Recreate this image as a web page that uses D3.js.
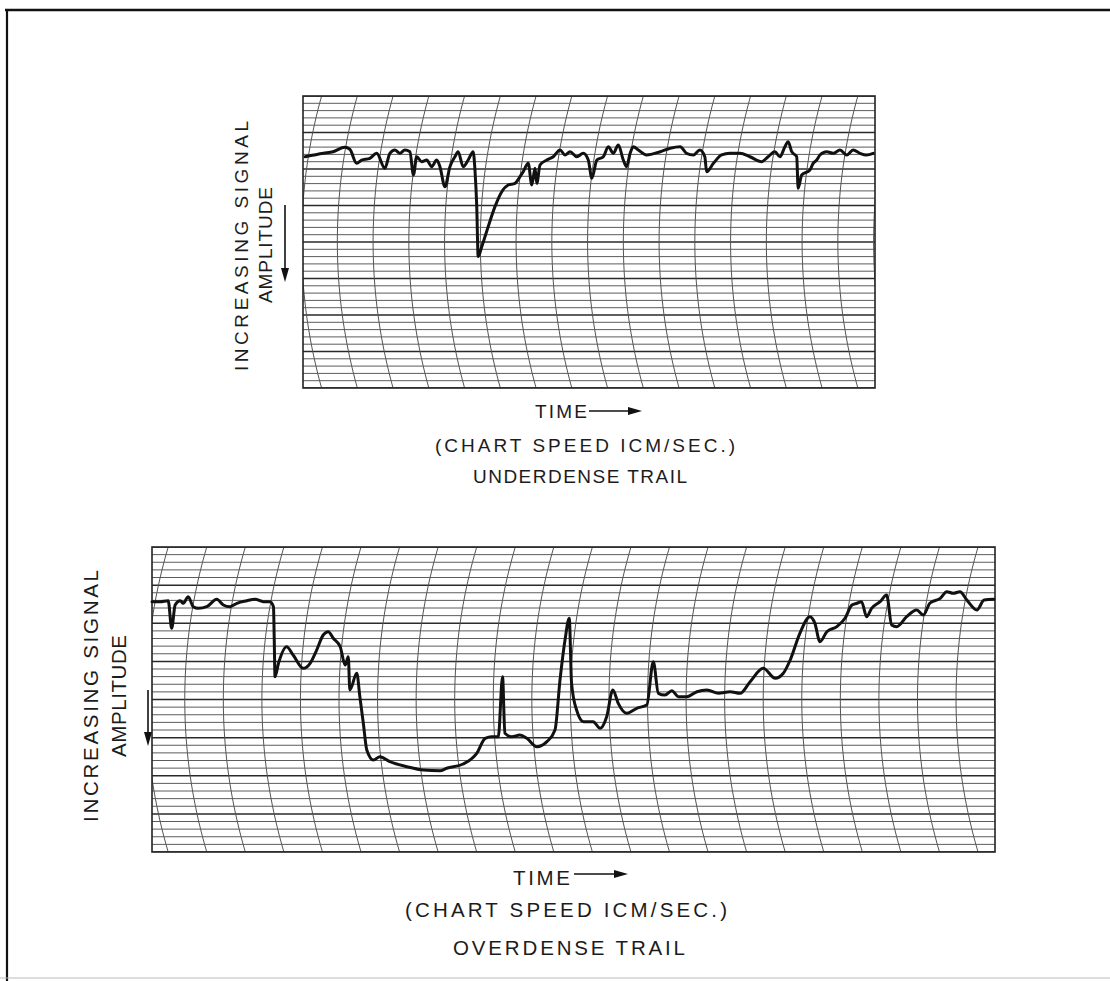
<!DOCTYPE html>
<html>
<head>
<meta charset="utf-8">
<script src="https://cdn.jsdelivr.net/npm/d3@7"></script>
<style>
  body { margin: 0; background: #fff; }
  text { font-family: "Liberation Sans", Arial, sans-serif; fill: #1c1c1c; }
</style>
</head>
<body>
<svg id="chart" width="1110" height="981"></svg>
<script>
'use strict';

// time in chart divisions (1 cm = 1 s), amplitude in pen divisions counted down from the top edge
var underTime = [0.06,0.57,0.84,1.17,1.31,1.50,1.64,1.87,2.06,2.29,2.43,2.57,2.71,2.85,2.99,3.09,3.18,3.32,3.46,3.60,3.74,3.83,3.97,4.11,4.25,4.34,4.48,4.62,4.76,4.81,4.86,4.90,5.00,5.18,5.37,5.56,5.74,5.93,6.07,6.16,6.30,6.40,6.49,6.54,6.63,6.82,7.00,7.19,7.33,7.47,7.66,7.84,7.98,8.08,8.22,8.40,8.54,8.68,8.82,8.96,9.05,9.15,9.24,9.38,9.61,9.99,10.27,10.55,10.73,10.92,11.10,11.24,11.29,11.48,11.71,11.94,12.22,12.50,12.83,13.01,13.20,13.34,13.48,13.57,13.67,13.81,13.85,13.95,14.18,14.27,14.37,14.46,14.65,14.83,15.02,15.21,15.39,15.58,15.76,15.95];
var underAmp = [8.32,7.85,7.63,7.03,7.30,9.22,8.77,8.53,7.85,9.90,7.85,7.40,7.85,7.40,7.63,10.82,8.32,9.00,8.77,9.68,8.77,9.68,12.42,9.68,8.32,7.63,9.68,8.77,7.63,10.14,15.16,22.0,20.64,17.90,15.16,13.11,12.19,11.96,11.05,10.37,9.22,12.19,9.90,11.96,9.45,8.77,8.32,7.40,8.08,7.63,8.32,7.85,8.77,11.27,8.77,8.32,6.95,7.85,6.71,8.77,9.68,7.85,6.95,7.40,8.08,7.63,7.16,6.95,7.85,8.08,7.40,8.32,10.37,9.22,8.08,7.85,7.85,8.32,9.00,8.32,7.63,8.32,6.95,6.26,7.63,8.32,12.64,10.82,10.14,9.22,8.77,8.08,7.63,7.85,7.40,8.08,7.40,7.85,8.08,7.85];

var overTime = [0.0,0.21,0.42,0.51,0.60,0.73,0.81,0.94,1.07,1.20,1.42,1.68,1.85,2.02,2.20,2.46,2.67,2.89,3.06,3.15,3.17,3.19,3.28,3.49,3.66,3.92,4.10,4.27,4.44,4.57,4.70,4.88,5.01,5.09,5.13,5.31,5.39,5.48,5.57,5.74,5.91,6.17,6.61,7.04,7.47,7.64,8.07,8.42,8.64,8.81,8.98,9.09,9.15,9.33,9.54,9.72,9.98,10.24,10.45,10.58,10.71,10.82,10.88,11.01,11.19,11.44,11.62,11.79,11.95,12.09,12.31,12.57,12.83,13.0,13.13,13.30,13.48,13.65,13.87,14.13,14.39,14.69,14.99,15.25,15.51,15.85,16.16,16.37,16.55,16.80,17.06,17.19,17.32,17.50,17.76,17.97,18.15,18.28,18.40,18.53,18.66,18.88,19.05,19.18,19.31,19.57,19.83,20.0,20.17,20.44,20.61,20.78,20.95,21.13,21.39,21.58,21.83];
var overAmp = [7.17,7.17,7.04,10.66,7.61,7.04,7.38,6.52,7.83,8.04,7.83,6.86,7.61,7.83,7.38,7.04,6.86,7.17,7.17,7.83,12.20,17.01,15.25,13.08,14.16,15.91,15.25,13.51,11.54,11.11,11.97,13.08,15.48,14.39,18.75,16.56,19.63,23.12,26.62,27.93,27.50,28.16,28.81,29.25,29.34,29.02,28.46,27.06,25.09,24.88,24.88,17.01,24.43,24.88,24.66,25.09,26.19,25.53,24.0,17.44,12.20,9.35,17.88,21.38,22.91,22.91,23.78,22.26,18.75,20.50,21.81,21.15,20.72,15.04,19.19,19.41,18.85,19.63,19.63,18.98,18.75,19.19,18.98,19.19,17.67,15.91,17.22,16.56,14.82,11.32,9.14,10.01,12.42,11.11,10.45,9.35,7.61,7.38,7.17,9.14,8.04,7.17,6.30,10.23,10.45,9.14,8.26,8.92,7.38,6.73,5.86,6.07,5.86,6.95,8.26,6.95,6.86];

var ampDivisions = 40;
var yLabelLines = ['INCREASING SIGNAL', 'AMPLITUDE'];
var xLabel = 'TIME';
var speedLabel = '(CHART SPEED ICM/SEC.)';
var trailNames = ['UNDERDENSE TRAIL', 'OVERDENSE TRAIL'];

var svg = d3.select('#chart');

// page frame
svg.append('line').attr('x1', 5).attr('y1', 10).attr('x2', 1110).attr('y2', 10)
    .attr('stroke', '#111').attr('stroke-width', 2.5);
svg.append('line').attr('x1', 7).attr('y1', 9).attr('x2', 7).attr('y2', 981)
    .attr('stroke', '#111').attr('stroke-width', 2.2);
svg.append('line').attr('x1', 0).attr('y1', 978).attr('x2', 1110).attr('y2', 978)
    .attr('stroke', '#bbb').attr('stroke-width', 1.2);

var panels = [{
    time: underTime, amp: underAmp, name: trailNames[0],
    x: 303, y: 96, w: 572, h: 292, tmax: 16, firstLine: 0.52, bow: 20,
    font: 19,
    yLab: [{x: 248, y: 246, len: 250}, {x: 272, y: 245, len: 116}],
    yArrow: {x: 285, y1: 205, y2: 282},
    time1: {x: 535, y: 418, len: 52}, tArrow: {x1: 589, x2: 642, y: 411},
    speed: {x: 435, y: 452, len: 300}, title: {x: 473, y: 483, len: 214}
}, {
    time: overTime, amp: overAmp, name: trailNames[1],
    x: 152, y: 547, w: 843, h: 305, tmax: 21.86, firstLine: 0.42, bow: 22,
    font: 20.5,
    yLab: [{x: 98, y: 696, len: 252}, {x: 126, y: 696, len: 122}],
    yArrow: {x: 148, y1: 690, y2: 746},
    time1: {x: 513, y: 885, len: 57}, tArrow: {x1: 574, x2: 628, y: 874},
    speed: {x: 405, y: 917, len: 322}, title: {x: 453, y: 955, len: 232}
}];

panels.forEach(function (p, pi) {
    var x = d3.scaleLinear().domain([0, p.tmax]).range([p.x, p.x + p.w]);
    var y = d3.scaleLinear().domain([0, ampDivisions]).range([p.y, p.y + p.h]);

    var clipId = 'clip' + pi;
    svg.append('clipPath').attr('id', clipId)
        .append('rect').attr('x', p.x).attr('y', p.y).attr('width', p.w).attr('height', p.h);

    var g = svg.append('g');
    var grid = g.append('g').attr('clip-path', 'url(#' + clipId + ')');

    // horizontal pen divisions, every fifth heavier
    grid.selectAll('line.h')
        .data(d3.range(0, ampDivisions + 1))
        .enter()
        .append('line')
        .attr('x1', p.x).attr('x2', p.x + p.w)
        .attr('y1', function (d) { return y(d); })
        .attr('y2', function (d) { return y(d); })
        .attr('stroke', function (d) { return d % 5 === 0 ? '#2a2a2a' : '#5c5c5c'; })
        .attr('stroke-width', function (d) { return d % 5 === 0 ? 1.5 : 1; });

    // curved time lines (pen arc)
    var h = p.h / 2;
    var R = (h * h + p.bow * p.bow) / (2 * p.bow);
    var yc = p.y + h;
    var base = Math.sqrt(R * R - h * h);
    var arcTimes = d3.range(p.firstLine - 1, p.tmax + 2, 1);
    grid.selectAll('path.v')
        .data(arcTimes)
        .enter()
        .append('path')
        .attr('d', function (t) {
            var pts = d3.range(0, 41).map(function (i) {
                var yy = p.y + p.h * i / 40;
                return [x(t) + base - Math.sqrt(R * R - (yy - yc) * (yy - yc)), yy];
            });
            return d3.line()(pts);
        })
        .attr('fill', 'none')
        .attr('stroke', '#555')
        .attr('stroke-width', 1);

    g.append('rect')
        .attr('x', p.x).attr('y', p.y).attr('width', p.w).attr('height', p.h)
        .attr('fill', 'none').attr('stroke', '#222').attr('stroke-width', 1.6);

    // recorder trace
    var line = d3.line()
        .curve(d3.curveMonotoneX)
        .x(function (d) { return x(d[0]); })
        .y(function (d) { return y(d[1]); });
    g.append('path')
        .datum(d3.zip(p.time, p.amp))
        .attr('d', line)
        .attr('fill', 'none')
        .attr('stroke', '#111')
        .attr('stroke-width', 3)
        .attr('stroke-linejoin', 'round')
        .attr('stroke-linecap', 'round');

    // y label
    p.yLab.forEach(function (l, i) {
        g.append('text')
            .attr('transform', 'translate(' + l.x + ',' + l.y + ') rotate(-90)')
            .attr('text-anchor', 'middle')
            .attr('font-size', p.font)
            .attr('textLength', l.len)
            .attr('lengthAdjust', 'spacing')
            .text(yLabelLines[i]);
    });
    g.append('line')
        .attr('x1', p.yArrow.x).attr('x2', p.yArrow.x)
        .attr('y1', p.yArrow.y1).attr('y2', p.yArrow.y2 - 12)
        .attr('stroke', '#111').attr('stroke-width', 1.6);
    g.append('path')
        .attr('d', 'M' + (p.yArrow.x - 4) + ',' + (p.yArrow.y2 - 14) +
            ' L' + (p.yArrow.x + 4) + ',' + (p.yArrow.y2 - 14) +
            ' L' + p.yArrow.x + ',' + p.yArrow.y2 + ' Z')
        .attr('fill', '#111');

    // x labels
    g.append('text')
        .attr('x', p.time1.x).attr('y', p.time1.y)
        .attr('font-size', p.font)
        .attr('textLength', p.time1.len).attr('lengthAdjust', 'spacing')
        .text(xLabel);
    g.append('line')
        .attr('x1', p.tArrow.x1).attr('x2', p.tArrow.x2 - 12)
        .attr('y1', p.tArrow.y).attr('y2', p.tArrow.y)
        .attr('stroke', '#111').attr('stroke-width', 1.6);
    g.append('path')
        .attr('d', 'M' + (p.tArrow.x2 - 14) + ',' + (p.tArrow.y - 4) +
            ' L' + (p.tArrow.x2 - 14) + ',' + (p.tArrow.y + 4) +
            ' L' + p.tArrow.x2 + ',' + p.tArrow.y + ' Z')
        .attr('fill', '#111');
    g.append('text')
        .attr('x', p.speed.x).attr('y', p.speed.y)
        .attr('font-size', p.font)
        .attr('textLength', p.speed.len).attr('lengthAdjust', 'spacing')
        .text(speedLabel);
    g.append('text')
        .attr('x', p.title.x).attr('y', p.title.y)
        .attr('font-size', p.font)
        .attr('textLength', p.title.len).attr('lengthAdjust', 'spacing')
        .text(p.name);
});
</script>
</body>
</html>
